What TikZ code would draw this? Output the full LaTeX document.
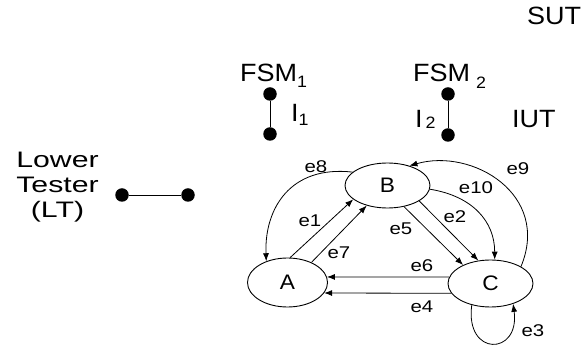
\documentclass[tikz,border=0pt]{standalone}
\usepackage{fontspec}
\setmainfont{Liberation Sans}
\newfontfamily\fA{Liberation Sans}[FakeStretch=1.08]
\newfontfamily\fW{Liberation Sans}[FakeStretch=1.35]
\newfontfamily\fL{Liberation Sans}[FakeStretch=1.2]
\usetikzlibrary{arrows.meta,shapes.geometric}
\newcommand{\subtxt}[1]{{\fontsize{16.5}{18}\selectfont #1}}
\begin{document}
\begin{tikzpicture}[x=1pt,y=-1pt,
  big/.style={font=\fA\fontsize{25}{28}\selectfont, inner sep=0pt},
  state/.style={draw, ellipse, line width=0.9pt, inner sep=0pt, font=\fA\fontsize{21}{24}\selectfont},
  lab/.style={font=\fL\fontsize{17}{20}\selectfont, inner sep=0pt},
  dot/.style={circle, fill, inner sep=0pt, minimum size=13.5pt},
  edge/.style={line width=0.8pt, -{Latex[length=8pt,width=6pt]}},
  wire/.style={line width=0.9pt}]
\useasboundingbox (0,0) rectangle (582,347);

% states
\node[state, minimum width=85pt, minimum height=45pt] (B) at (387.5,185.5) {B};
\node[state, minimum width=80pt, minimum height=49pt] (A) at (287.5,282.5) {A};
\node[state, minimum width=85pt, minimum height=47pt] (C) at (490.5,283.5) {C};

% transitions
\draw[edge] (A.84) -- (B.202);
\draw[edge] (A.40) -- (B.224);
\draw[edge] (B.159) .. controls +(-62,-7) and +(-2,-53) .. (A.135);
\draw[edge] (B.308) -- (C.146);
\draw[edge] (B.334) -- (C.118);
\draw[edge] (B.-5) .. controls +(43,7) and +(0,-38) .. (C.80);
\draw[edge] (C.29) .. controls +(30,-72) and +(63,-18) .. (B.42);
\draw[edge] (C.171) -- (A.8);
\draw[edge] (C.194.5) -- (A.344);
\draw[edge] (C.229) .. controls +(-7,52) and +(7,52) .. (C.318);

% labels
\node[lab] (l1) at (310,221) {e1};
\node[lab] (l2) at (455,217) {e2};
\node[lab] (l3) at (533,331) {e3};
\node[lab] (l4) at (422,307) {e4};
\node[lab] (l5) at (401,229) {e5};
\node[lab] (l6) at (422,266) {e6};
\node[lab] (l7) at (339,253) {e7};
\node[lab] (l8) at (316,167) {e8};
\node[lab] (l9) at (518,169) {e9};
\node[lab] (l10) at (476,188) {e10};

% points of control and observation
\node[dot] (lt1) at (122,195) {};
\node[dot] (lt2) at (188,195) {};
\draw[wire] (lt1) -- (lt2);
\node[dot] (p1) at (270,94) {};
\node[dot] (q1) at (270,134) {};
\draw[wire] (p1) -- (q1);
\node[dot] (p2) at (448,94) {};
\node[dot] (q2) at (448,135) {};
\draw[wire] (p2) -- (q2);

% texts
\node[big, anchor=base west] (sut) at (527,25) {SUT};
\node[big, anchor=base west] (iut) at (512,128) {IUT};
\node[big, anchor=base west] (fsm1) at (240,82) {FSM\raisebox{-5.5pt}{\subtxt{1}}};
\node[big, anchor=base west] (fsm2) at (413,82) {FSM\hspace{6pt}\raisebox{-7pt}{\subtxt{2}}};
\node[big, anchor=base west] (i1) at (291,122) {I\raisebox{-4pt}{\subtxt{1}}};
\node[big, anchor=base west] (i2) at (415,128) {I\hspace{3pt}\raisebox{-1pt}{\subtxt{2}}};
\node[font=\fW\fontsize{22.4}{25}\selectfont, align=center, inner sep=0pt, anchor=base] (lt) at (57.5,218) {Lower\\Tester\\(LT)};
\end{tikzpicture}
\end{document}
